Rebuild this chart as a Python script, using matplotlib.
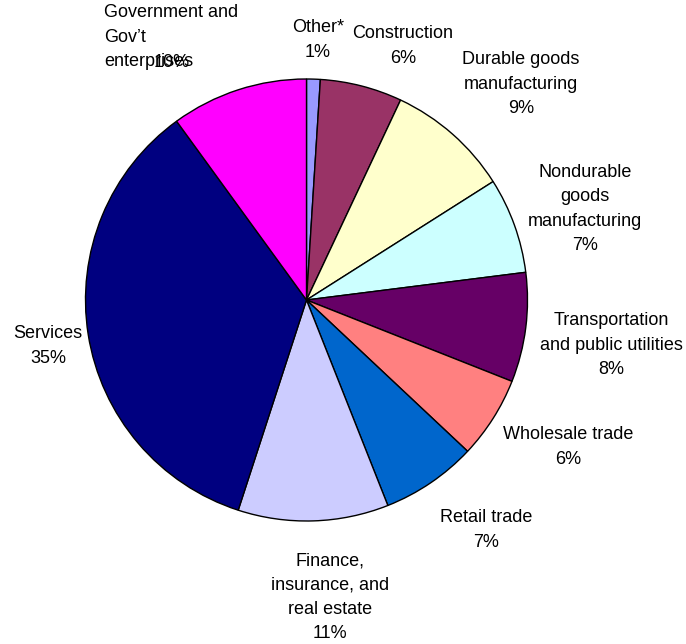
import matplotlib.pyplot as plt

plt.rcParams['font.family'] = ['Liberation Sans', 'DejaVu Sans']

sectors = ['Other*', 'Construction', 'Durable goods\nmanufacturing',
           'Nondurable\ngoods\nmanufacturing', 'Transportation\nand public utilities',
           'Wholesale trade', 'Retail trade', 'Finance,\ninsurance, and\nreal estate',
           'Services', 'Government and\nGov\u2019t\nenterprises']
shares = [1, 6, 9, 7, 8, 6, 7, 11, 35, 10]
colors = ['#9999FF', '#993366', '#FFFFCC', '#CCFFFF', '#660066',
          '#FF8080', '#0066CC', '#CCCCFF', '#000080', '#FF00FF']

# label centres in pixel units (x from left, y from top)
label_pos = [(318, 40), (403, 46), (521, 84), (585, 209), (611, 345),
             (568, 447), (486, 530), (330, 597), (48, 346), (104, 37)]

W, H = 686, 644
fig = plt.figure(figsize=(W / 100, H / 100), dpi=100)
ax = fig.add_axes([0, 0, 1, 1])

ax.pie(shares, colors=colors, startangle=90, counterclock=False,
       center=(306.5, H - 300), radius=221,
       wedgeprops=dict(edgecolor='black', linewidth=1))
ax.set_xlim(0, W)
ax.set_ylim(0, H)
ax.set_aspect('equal')
ax.axis('off')

for name, val, (px, py) in zip(sectors, shares, label_pos):
    if name.startswith('Government'):
        # left-aligned block, percentage drawn separately
        ax.text(px, H - py, name, ha='left', va='center', fontsize=13,
                linespacing=1.54)
        ax.text(172, H - 62, f'{val}%', ha='center', va='center', fontsize=13)
    else:
        ax.text(px, H - py, f'{name}\n{val}%', ha='center', va='center',
                fontsize=13, linespacing=1.54)

fig.savefig('out.png', dpi=100)
